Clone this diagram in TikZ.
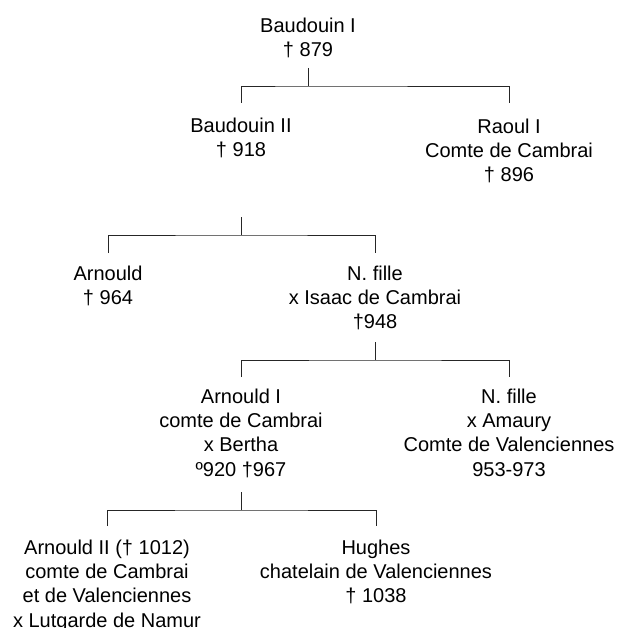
\documentclass[tikz,border=0pt]{standalone}
\usepackage{fontspec}
\setmainfont{Liberation Sans}
\begin{document}
\begin{tikzpicture}[x=1pt,y=-1pt,
  person/.style={anchor=north,inner sep=0pt,align=center,font=\fontsize{20}{24.3}\selectfont},
  link/.style={draw=black!85,line width=0.8pt}]
\useasboundingbox (0,0) rectangle (618,628);
% persons (top = first baseline - 14.5)
\node[person] (b1) at (308,17.5) {Baudouin I\\† 879};
\node[person] (b2) at (241,117.5) {Baudouin II\\† 918};
\node[person] (r1) at (509,118.5) {Raoul I\\Comte de Cambrai\\† 896};
\node[person] (ar) at (108,265.5) {Arnould\\† 964};
\node[person] (nf) at (375,265.5) {N. fille\\x Isaac de Cambrai\\†948};
\node[person] (a1) at (241,388.5) {Arnould I\\comte de Cambrai\\x Bertha\\º920 †967};
\node[person] (nf2) at (509,388.5) {N. fille\\x Amaury\\Comte de Valenciennes\\953-973};
\node[person] (a2) at (107,539.5) {Arnould II († 1012)\\comte de Cambrai\\et de Valenciennes\\x Lutgarde de Namur};
\node[person] (hu) at (376,539.5) {Hughes\\chatelain de Valenciennes\\† 1038};
% connectors
\draw[link] (b1 |- 0,68) -- (b1 |- 0,86);
\draw[link] (b2 |- 0,103) |- (b1 |- 0,86) -| (r1 |- 0,103);
\draw[link] (b2 |- 0,217) -- (b2 |- 0,235);
\draw[link] (ar |- 0,253) |- (b2 |- 0,235) -| (nf |- 0,253);
\draw[link] (nf |- 0,342) -- (nf |- 0,360);
\draw[link] (a1 |- 0,377) |- (nf |- 0,360) -| (nf2 |- 0,377);
\draw[link] (a1 |- 0,492) -- (a1 |- 0,510);
\draw[link] (a2 |- 0,526) |- (a1 |- 0,510) -| (hu |- 0,526);
\end{tikzpicture}
\end{document}
